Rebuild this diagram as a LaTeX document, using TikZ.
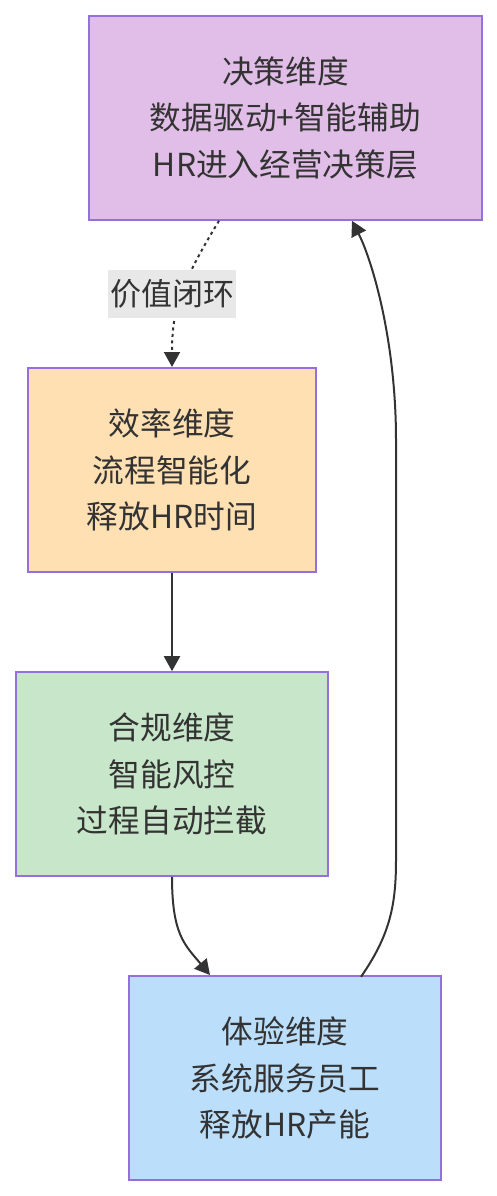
\documentclass[tikz,border=0pt]{standalone}
\usepackage{fontspec}
\newfontfamily\cjk{Noto Sans CJK SC}
\usetikzlibrary{arrows.meta}
\definecolor{bordc}{HTML}{9370DB}
\definecolor{txtc}{HTML}{333333}
\definecolor{fpurple}{HTML}{E1BEE7}
\definecolor{forange}{HTML}{FFE0B2}
\definecolor{fgreen}{HTML}{C8E6C9}
\definecolor{fblue}{HTML}{BBDEFB}
\definecolor{lblbg}{HTML}{E8E8E8}
\definecolor{edgec}{HTML}{333333}
\tikzset{
  dimbox/.style={draw=bordc, line width=1.6pt, text=txtc, align=center, inner sep=0pt,
    font=\cjk\fontsize{31.7}{46.5}\selectfont},
  conn/.style={draw=edgec, line width=2pt, -{Triangle[length=15pt,width=16pt]}},
  lbl/.style={fill=lblbg, text=txtc, inner sep=0pt, minimum width=128pt, minimum height=48pt,
    font=\cjk\fontsize{31}{36}\selectfont}
}
\begin{document}
\begin{tikzpicture}[x=1pt,y=-1pt]
\useasboundingbox (0,0) rectangle (497,1196);
\node[dimbox, fill=fpurple, minimum width=393pt, minimum height=204pt] (dec) at (285.5,118)
  {决策维度\\数据驱动+智能辅助\\HR进入经营决策层};
\node[dimbox, fill=forange, minimum width=288pt, minimum height=204pt] (eff) at (172,470)
  {效率维度\\流程智能化\\释放HR时间};
\node[dimbox, fill=fgreen, minimum width=312pt, minimum height=204pt] (com) at (172,774)
  {合规维度\\智能风控\\过程自动拦截};
\node[dimbox, fill=fblue, minimum width=312pt, minimum height=204pt] (exp) at (285,1078)
  {体验维度\\系统服务员工\\释放HR产能};
\coordinate (c1) at (219,220.8);
\coordinate (c2) at (172,367);
\draw[conn, dash pattern=on 3pt off 3.5pt] (c1) .. controls (180,285) and (172,310) .. (c2);
\node[lbl] (lab) at (172,294) {价值闭环};
\draw[conn] (eff.south) -- (com.north);
\coordinate (c3) at (210,975);
\draw[conn] (com.south) .. controls (172,935) and (185,945) .. (c3);
\coordinate (c4) at (361,976.8);
\coordinate (c5) at (352,220.8);
\draw[conn] (c4) .. controls (390,935) and (396,905) .. (396,860) -- (396,440)
  .. controls (396,340) and (372,260) .. (c5);
\end{tikzpicture}
\end{document}
